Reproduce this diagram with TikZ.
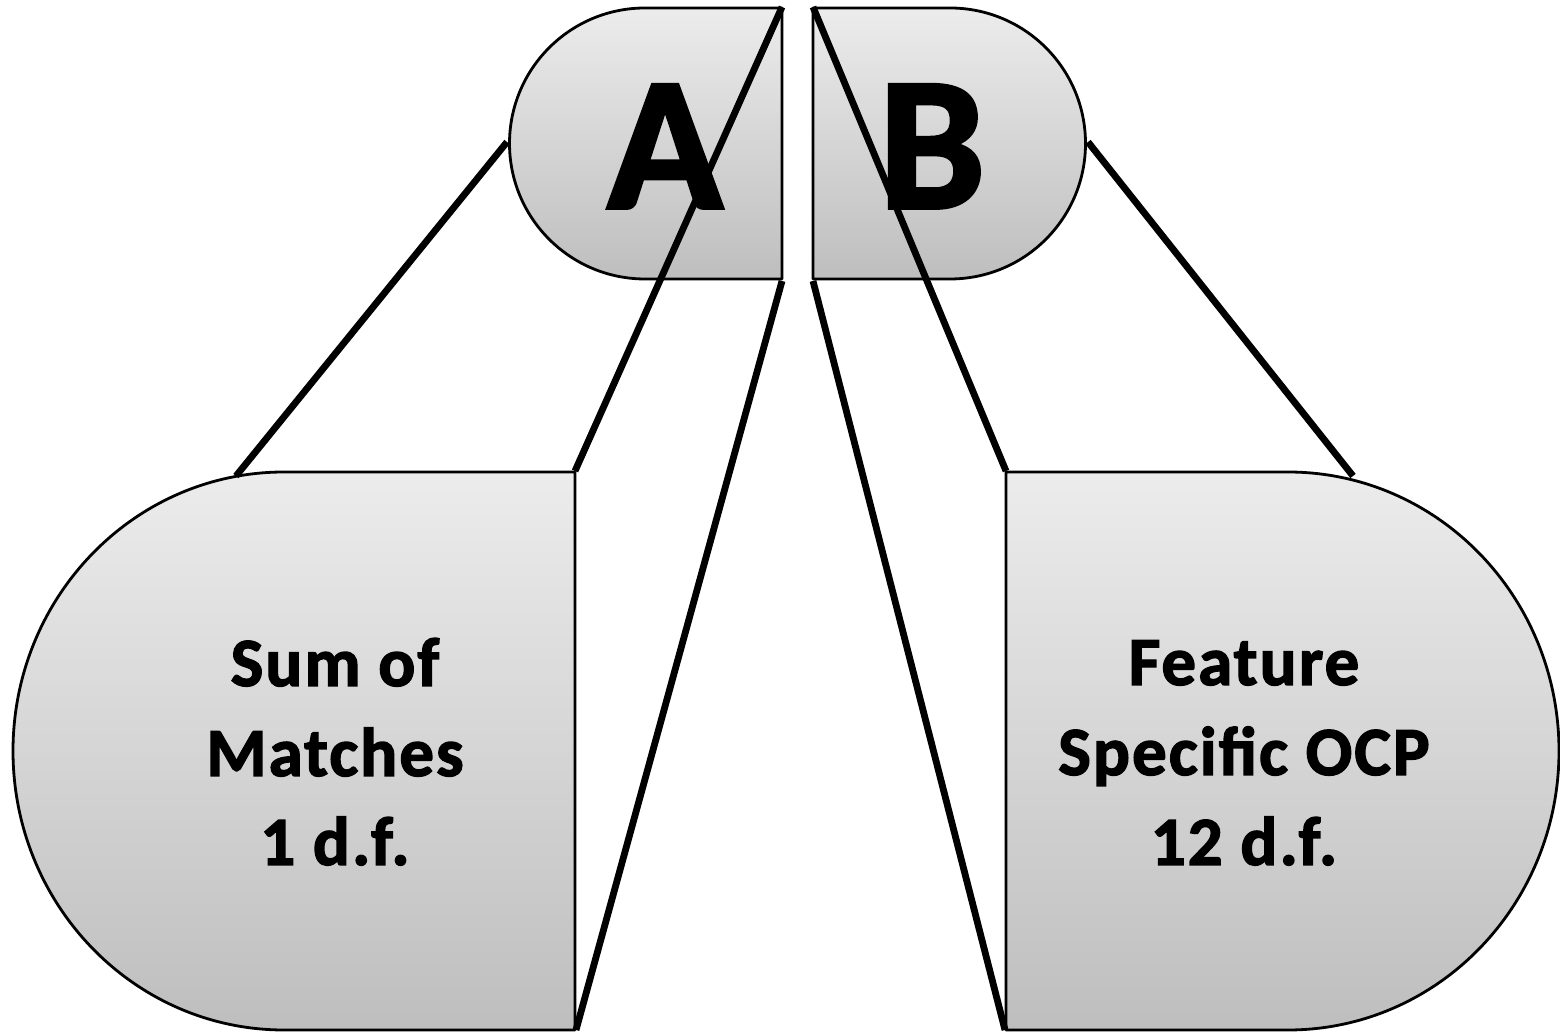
\documentclass[tikz,border=0pt]{standalone}
\usepackage{fontspec}
\setmainfont{Carlito}
\newfontfamily\embfont[UprightFont=* Bold, FakeBold=2]{Carlito}
\newfontfamily\lblfont[UprightFont=* Bold, FakeBold=2, LetterSpace=3]{Carlito}
\definecolor{gtop}{RGB}{236,236,236}
\definecolor{gbot}{RGB}{190,190,190}
\begin{document}
\begin{tikzpicture}[x=1pt,y=1pt,
  pill/.style={draw=black,line width=2.8pt,top color=gtop,bottom color=gbot,line join=round},
  link/.style={draw=black,line width=6.8pt},
  big/.style={font=\fontsize{190}{190}\embfont,inner sep=0pt,anchor=base},
  lbl/.style={font=\fontsize{69}{90}\lblfont,inner sep=0pt,anchor=base}]
\useasboundingbox (0,0) rectangle (1560,1033);
% shapes
\path[pill] (782,1025) -- (645,1025) arc[start angle=90,end angle=270,radius=135.5] -- (782,754) -- cycle;
\path[pill] (813,1025) -- (950,1025) arc[start angle=90,end angle=-90,radius=135.5] -- (813,754) -- cycle;
\path[pill] (575,561) -- (284,561) arc[start angle=90,end angle=270,x radius=271,y radius=279] -- (575,3) -- cycle;
\path[pill] (1006,561) -- (1288,561) arc[start angle=90,end angle=-90,x radius=271,y radius=279] -- (1006,3) -- cycle;
% texts
\node[big] (la) at (665,825) {A};
\node[big] (lb) at (932,825) {B};
\node[lbl] (s1) at (335,347) {Sum of};
\node[lbl] (s2) at (335,257) {Matches};
\node[lbl] (s3) at (335,168) {1 d.f.};
\node[lbl] (f1) at (1244,348) {Feature};
\node[lbl] (f2) at (1244,258) {Specific OCP};
\node[lbl] (f3) at (1244,168) {12 d.f.};
% connector end points
\coordinate (aL) at (507,891);
\coordinate (aTR) at (782,1026);
\coordinate (aBR) at (782,752);
\coordinate (bTL) at (813,1026);
\coordinate (bBL) at (813,752);
\coordinate (bR) at (1088,891);
\coordinate (cTL) at (236,557);
\coordinate (cTR) at (575,562);
\coordinate (cBR) at (576,3);
\coordinate (dTL) at (1006,562);
\coordinate (dBL) at (1005,3);
\coordinate (dTR) at (1353,557);
\draw[link] (aL) -- (cTL);
\draw[link] (aTR) -- (cTR);
\draw[link] (aBR) -- (cBR);
\draw[link] (bTL) -- (dTL);
\draw[link] (bBL) -- (dBL);
\draw[link] (bR) -- (dTR);
\end{tikzpicture}
\end{document}
